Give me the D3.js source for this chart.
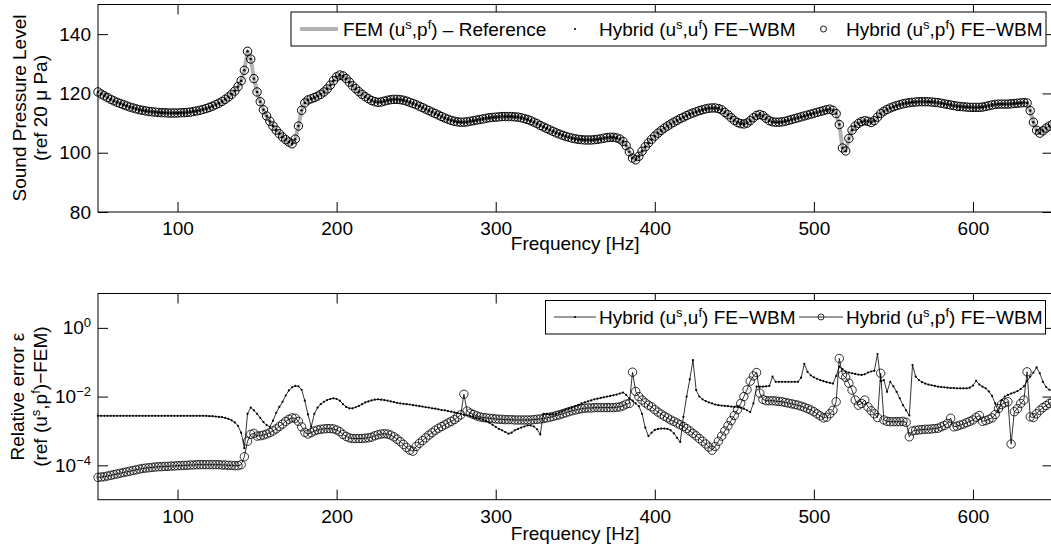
<!DOCTYPE html>
<html>
<head>
<meta charset="utf-8">
<script src="https://cdn.jsdelivr.net/npm/d3@7"></script>
<style>
  body { margin: 0; background: #fff; }
  svg { display: block; overflow: hidden; }
  svg text { font-family: "Liberation Sans", Arial, Helvetica, sans-serif; fill: #000; }
</style>
</head>
<body>
<div id="chart"></div>
<script>
// frequency sweep, 2 Hz steps
var freqHz = d3.range(50, 651, 2);

// sound pressure level (dB ref 20 uPa), the FEM and both hybrid models coincide at this scale
var splDb = [
  120.5, 119.8, 119.2, 118.6, 118.0, 117.5, 117.0, 116.6, 116.2, 115.8,
  115.4, 115.1, 114.8, 114.5, 114.3, 114.1, 113.9, 113.8, 113.7, 113.6,
  113.5, 113.5, 113.4, 113.4, 113.4, 113.4, 113.5, 113.5, 113.6, 113.7,
  113.9, 114.1, 114.3, 114.6, 114.9, 115.3, 115.7, 116.2, 116.7, 117.3,
  118.0, 118.8, 119.7, 120.8, 122.3, 124.3, 127.8, 134.2, 131.6, 125.0,
  120.5, 117.2, 114.5, 112.4, 110.6, 109.0, 107.6, 106.4, 105.3, 104.4,
  103.6, 103.0, 104.6, 109.0, 114.3, 116.8, 117.8, 118.2, 118.6, 119.1,
  119.7, 120.5, 121.5, 122.8, 124.3, 125.6, 126.2, 125.9, 125.0, 123.8,
  122.6, 121.6, 120.6, 119.7, 118.9, 118.2, 117.6, 117.2, 117.0, 117.1,
  117.4, 117.7, 117.9, 118.0, 118.0, 117.9, 117.7, 117.4, 117.0, 116.6,
  116.2, 115.7, 115.2, 114.7, 114.2, 113.7, 113.2, 112.7, 112.2, 111.7,
  111.3, 110.9, 110.6, 110.4, 110.3, 110.3, 110.4, 110.6, 110.8, 111.0,
  111.2, 111.4, 111.6, 111.8, 111.9, 112.0, 112.1, 112.2, 112.2, 112.2,
  112.2, 112.1, 112.0, 111.8, 111.5, 111.2, 110.8, 110.3, 109.8, 109.2,
  108.7, 108.2, 107.7, 107.2, 106.7, 106.3, 105.9, 105.5, 105.2, 104.9,
  104.7, 104.5, 104.4, 104.3, 104.3, 104.3, 104.4, 104.5, 104.7, 104.9,
  105.1, 105.2, 105.2, 105.0, 104.6, 103.8, 102.4, 100.3, 98.2, 97.6,
  98.8, 100.5, 102.0, 103.3, 104.5, 105.6, 106.6, 107.5, 108.3, 109.0,
  109.7, 110.3, 110.9, 111.5, 112.0, 112.5, 113.0, 113.4, 113.8, 114.2,
  114.5, 114.8, 115.0, 115.1, 115.1, 114.9, 114.5, 113.6, 112.8, 111.8,
  110.9, 110.2, 109.8, 109.7, 110.0, 110.8, 111.8, 112.6, 112.9, 112.5,
  111.6, 110.8, 110.4, 110.3, 110.3, 110.4, 110.6, 110.9, 111.2, 111.5,
  111.8, 112.1, 112.4, 112.7, 113.0, 113.3, 113.6, 113.9, 114.2, 114.5,
  114.7, 114.3, 113.2, 109.5, 101.6, 100.6, 104.8, 107.6, 109.0, 109.9,
  110.5, 110.8, 110.6, 110.2, 110.8, 112.0, 113.2, 114.0, 114.6, 115.1,
  115.5, 115.9, 116.2, 116.5, 116.7, 116.9, 117.0, 117.1, 117.2, 117.2,
  117.2, 117.2, 117.1, 117.0, 116.9, 116.7, 116.5, 116.3, 116.1, 115.9,
  115.7, 115.6, 115.5, 115.4, 115.3, 115.3, 115.3, 115.3, 115.4, 115.6,
  115.9, 116.1, 116.3, 116.4, 116.4, 116.4, 116.4, 116.5, 116.6, 116.7,
  116.8, 116.9, 116.8, 114.2, 110.3, 107.6, 106.6, 107.4, 108.3, 109.0,
  109.6
];

// relative error, stored as log10 of the value
var errUfLog = [
  -2.56, -2.56, -2.56, -2.56, -2.56, -2.56, -2.56, -2.56, -2.56, -2.56,
  -2.56, -2.56, -2.56, -2.56, -2.56, -2.56, -2.56, -2.56, -2.56, -2.56,
  -2.56, -2.56, -2.56, -2.56, -2.56, -2.56, -2.56, -2.56, -2.56, -2.56,
  -2.56, -2.56, -2.56, -2.56, -2.56, -2.57, -2.57, -2.58, -2.59, -2.60,
  -2.62, -2.65, -2.69, -2.75, -2.85, -3.05, -3.50, -2.50, -2.32, -2.40,
  -2.50, -2.62, -2.74, -2.83, -2.88, -2.70, -2.47, -2.30, -2.15, -1.97,
  -1.82, -1.73, -1.69, -1.70, -1.80, -2.12, -2.52, -2.88, -2.50, -2.32,
  -2.22, -2.15, -2.10, -2.07, -2.05, -2.07, -2.12, -2.22, -2.30, -2.34,
  -2.34, -2.31, -2.27, -2.22, -2.17, -2.14, -2.11, -2.09, -2.08, -2.09,
  -2.10, -2.12, -2.14, -2.16, -2.18, -2.20, -2.21, -2.22, -2.23, -2.25,
  -2.26, -2.28, -2.29, -2.31, -2.32, -2.34, -2.35, -2.37, -2.39, -2.40,
  -2.42, -2.44, -2.46, -2.48, -2.50, -2.53, -2.55, -2.57, -2.59, -2.62,
  -2.64, -2.67, -2.71, -2.76, -2.82, -2.88, -2.94, -2.98, -3.03, -3.08,
  -3.05, -2.98, -2.94, -2.90, -2.87, -2.84, -2.84, -2.87, -2.95, -3.10,
  -2.50, -2.50, -2.52, -2.52, -2.50, -2.46, -2.42, -2.38, -2.35, -2.32,
  -2.28, -2.24, -2.20, -2.17, -2.14, -2.11, -2.08, -2.06, -2.04, -2.02,
  -2.00, -1.98, -1.96, -1.94, -1.91, -1.88, -1.95, -2.05, -2.12, -2.20,
  -2.28, -2.50, -2.90, -3.15, -3.05, -2.97, -2.94, -2.93, -2.93, -2.94,
  -2.98, -3.07, -3.20, -3.32, -2.59, -2.00, -1.50, -0.94, -1.81, -2.00,
  -2.08, -2.13, -2.17, -2.20, -2.23, -2.25, -2.26, -2.27, -2.28, -2.29,
  -2.30, -2.30, -2.32, -2.35, -2.40, -2.45, -2.20, -1.71, -1.71, -1.71,
  -1.70, -1.69, -1.42, -1.57, -1.57, -1.57, -1.57, -1.57, -1.57, -1.57,
  -1.57, -1.45, -1.05, -1.28, -1.38, -1.44, -1.48, -1.52, -1.55, -1.58,
  -1.60, -1.62, -1.40, -1.13, -1.20, -1.27, -1.30, -1.32, -1.34, -1.36,
  -1.37, -1.35, -1.30, -1.27, -1.25, -0.76, -1.55, -1.52, -1.86, -1.57,
  -1.70, -1.86, -2.05, -2.25, -2.40, -2.55, -1.08, -1.42, -1.52, -1.58,
  -1.62, -1.65, -1.67, -1.69, -1.71, -1.72, -1.73, -1.74, -1.75, -1.75,
  -1.76, -1.76, -1.76, -1.76, -1.74, -1.68, -1.54, -1.65, -1.71, -1.76,
  -1.85, -1.98, -2.20, -2.44, -2.10, -2.00, -1.95, -1.91, -1.88, -1.84,
  -1.78, -1.70, -1.55, -1.42, -1.30, -1.15, -1.32, -1.57, -1.72, -1.80,
  -1.84
];

var errPfLog = [
  -4.35, -4.34, -4.33, -4.31, -4.29, -4.27, -4.25, -4.23, -4.21, -4.19,
  -4.17, -4.15, -4.13, -4.11, -4.09, -4.08, -4.07, -4.06, -4.05, -4.04,
  -4.04, -4.03, -4.03, -4.02, -4.02, -4.01, -4.01, -4.00, -4.00, -3.99,
  -3.99, -3.98, -3.98, -3.98, -3.98, -3.98, -3.98, -3.98, -3.98, -3.99,
  -3.99, -4.00, -4.00, -4.01, -4.01, -3.98, -3.75, -3.30, -3.10, -3.07,
  -3.15, -3.14, -3.12, -3.09, -3.05, -3.00, -2.94, -2.87, -2.80, -2.72,
  -2.66, -2.62, -2.63, -2.72, -2.88, -3.04, -3.09, -3.05, -3.00, -2.97,
  -2.95, -2.94, -2.93, -2.93, -2.94, -2.97, -3.02, -3.10, -3.16, -3.20,
  -3.22, -3.22, -3.22, -3.22, -3.21, -3.20, -3.18, -3.14, -3.11, -3.09,
  -3.08, -3.09, -3.12, -3.17, -3.24, -3.31, -3.39, -3.48, -3.56, -3.59,
  -3.45, -3.36, -3.28, -3.20, -3.12, -3.05, -2.98, -2.92, -2.87, -2.82,
  -2.77, -2.72, -2.67, -2.60, -2.53, -1.93, -2.42, -2.48, -2.52, -2.56,
  -2.59, -2.61, -2.62, -2.63, -2.64, -2.65, -2.66, -2.66, -2.67, -2.67,
  -2.67, -2.68, -2.68, -2.68, -2.68, -2.68, -2.68, -2.67, -2.66, -2.65,
  -2.64, -2.62, -2.60, -2.58, -2.55, -2.53, -2.50, -2.47, -2.44, -2.41,
  -2.39, -2.37, -2.35, -2.34, -2.33, -2.33, -2.32, -2.32, -2.32, -2.32,
  -2.32, -2.32, -2.32, -2.31, -2.30, -2.27, -2.22, -2.20, -1.29, -1.85,
  -2.00, -2.10, -2.18, -2.25, -2.30, -2.38, -2.45, -2.51, -2.57, -2.62,
  -2.68, -2.72, -2.77, -2.82, -2.87, -2.93, -3.00, -3.07, -3.14, -3.22,
  -3.30, -3.38, -3.47, -3.56, -3.45, -3.30, -3.15, -3.00, -2.85, -2.70,
  -2.55, -2.38, -2.20, -2.00, -1.80, -1.55, -1.40, -1.30, -1.90, -2.08,
  -2.12, -2.12, -2.12, -2.13, -2.14, -2.15, -2.17, -2.19, -2.21, -2.23,
  -2.25, -2.28, -2.31, -2.35, -2.39, -2.44, -2.50, -2.56, -2.62, -2.60,
  -2.50, -2.40, -2.15, -0.89, -1.37, -1.44, -1.61, -1.81, -2.10, -2.25,
  -2.20, -2.10, -2.30, -2.41, -2.50, -2.61, -1.32, -2.68, -2.72, -2.73,
  -2.73, -2.73, -2.73, -2.72, -2.75, -3.17, -3.00, -2.98, -2.97, -2.96,
  -2.95, -2.95, -2.94, -2.93, -2.92, -2.88, -2.84, -2.78, -2.63, -2.88,
  -2.86, -2.83, -2.80, -2.76, -2.72, -2.68, -2.60, -2.55, -2.72, -2.70,
  -2.66, -2.62, -2.52, -2.35, -2.23, -2.18, -2.15, -3.38, -2.44, -2.35,
  -2.20, -2.10, -1.28, -2.59, -2.61, -2.50, -2.40, -2.32, -2.26, -2.20,
  -2.15
];

var splTicks = [80, 100, 120, 140];
var freqTicks = [100, 200, 300, 400, 500, 600];
var errTicks = [1e0, 1e-2, 1e-4];

var width = 1051, height = 548;
var fs = 19;

var svg = d3.select("#chart").append("svg")
    .attr("width", width)
    .attr("height", height);

var x = d3.scaleLinear().domain([50, 650]).range([98, 1052.5]);
var ySpl = d3.scaleLinear().domain([80, 150]).range([212, 4.5]);
var yErr = d3.scaleLog().domain([1e-5, 10]).range([499.7, 293.5]);

// writes text with superscripts; parts = [[string, isSup], ...]
function rich(textSel, parts) {
  var up = false;
  parts.forEach(function(p) {
    var t = textSel.append("tspan").text(p[0]);
    if (p[1]) {
      t.attr("dy", -7).style("font-size", "13px");
      up = true;
    } else if (up) {
      t.attr("dy", 7);
      up = false;
    }
  });
  return textSel;
}

function frame(yScale, top, bottom, yTicks, yFormat, labelGap) {
  var g = svg.append("g");

  g.append("g")
      .attr("transform", "translate(0," + bottom + ")")
      .call(d3.axisBottom(x).tickValues(freqTicks).tickSize(-10).tickSizeOuter(0).tickPadding(10))
      .call(function(a) { a.select(".domain").remove(); });

  g.append("g")
      .attr("transform", "translate(0," + top + ")")
      .call(d3.axisTop(x).tickValues(freqTicks).tickSize(-10).tickSizeOuter(0).tickFormat(""))
      .call(function(a) { a.select(".domain").remove(); });

  var left = g.append("g")
      .attr("transform", "translate(" + x.range()[0] + ",0)")
      .call(d3.axisLeft(yScale).tickValues(yTicks).tickSize(-10).tickSizeOuter(0).tickPadding(7).tickFormat(yFormat))
      .call(function(a) { a.select(".domain").remove(); });

  g.append("g")
      .attr("transform", "translate(" + x.range()[1] + ",0)")
      .call(d3.axisRight(yScale).tickValues(yTicks).tickSize(-10).tickSizeOuter(0).tickFormat(""))
      .call(function(a) { a.select(".domain").remove(); });

  g.selectAll(".tick line").attr("stroke", "#000").attr("stroke-width", 1);
  g.selectAll(".tick text").style("font-size", fs + "px").attr("fill", "#000");

  g.append("rect")
      .attr("x", x.range()[0]).attr("y", top)
      .attr("width", x.range()[1] - x.range()[0])
      .attr("height", bottom - top)
      .attr("fill", "none").attr("stroke", "#000").attr("stroke-width", 1);

  svg.append("text")
      .attr("x", (x.range()[0] + x.range()[1]) / 2)
      .attr("y", bottom + labelGap)
      .attr("text-anchor", "middle")
      .style("font-size", fs + "px")
      .text("Frequency [Hz]");

  return left;
}

// ---------- top: sound pressure level ----------
frame(ySpl, 4.5, 212, splTicks, d3.format("d"), 38);

var splLine = d3.line()
    .x(function(d, i) { return x(freqHz[i]); })
    .y(function(d) { return ySpl(d); });

svg.append("path")
    .datum(splDb)
    .attr("d", splLine)
    .attr("fill", "none")
    .attr("stroke", "#b3b3b3")
    .attr("stroke-width", 4)
    .attr("stroke-linejoin", "round");

svg.append("g").selectAll("circle")
    .data(splDb)
  .enter().append("circle")
    .attr("cx", function(d, i) { return x(freqHz[i]); })
    .attr("cy", function(d) { return ySpl(d); })
    .attr("r", 1.2)
    .attr("fill", "#000");

svg.append("g").selectAll("circle")
    .data(splDb)
  .enter().append("circle")
    .attr("cx", function(d, i) { return x(freqHz[i]); })
    .attr("cy", function(d) { return ySpl(d); })
    .attr("r", 4.2)
    .attr("fill", "none")
    .attr("stroke", "#000")
    .attr("stroke-width", 1);

svg.append("text")
    .attr("transform", "translate(26,108) rotate(-90)")
    .attr("text-anchor", "middle")
    .style("font-size", fs + "px")
    .text("Sound Pressure Level");
svg.append("text")
    .attr("transform", "translate(47,108) rotate(-90)")
    .attr("text-anchor", "middle")
    .style("font-size", fs + "px")
    .text("(ref 20 \u03bc Pa)");

// legend top
var leg1 = svg.append("g");
leg1.append("rect")
    .attr("x", 291).attr("y", 12).attr("width", 755).attr("height", 34)
    .attr("fill", "#fff").attr("stroke", "#000").attr("stroke-width", 1);
leg1.append("line")
    .attr("x1", 300).attr("x2", 338).attr("y1", 29).attr("y2", 29)
    .attr("stroke", "#b3b3b3").attr("stroke-width", 4);
rich(leg1.append("text").attr("x", 343).attr("y", 36).style("font-size", fs + "px"),
    [["FEM (u"], ["s", 1], [",p"], ["f", 1], [") \u2013 Reference"]]);
leg1.append("circle").attr("cx", 575).attr("cy", 29).attr("r", 1.1).attr("fill", "#000");
rich(leg1.append("text").attr("x", 599).attr("y", 36).style("font-size", fs + "px"),
    [["Hybrid (u"], ["s", 1], [",u"], ["f", 1], [") FE\u2212WBM"]]);
leg1.append("circle").attr("cx", 823.5).attr("cy", 29).attr("r", 3)
    .attr("fill", "none").attr("stroke", "#000").attr("stroke-width", 0.9);
rich(leg1.append("text").attr("x", 846).attr("y", 36).style("font-size", fs + "px"),
    [["Hybrid (u"], ["s", 1], [",p"], ["f", 1], [") FE\u2212WBM"]]);

// ---------- bottom: relative error ----------
var errLeft = frame(yErr, 293.5, 499.7, errTicks, function() { return ""; }, 40);
errLeft.selectAll(".tick text").each(function(d) {
  var e = Math.round(Math.log10(d));
  var t = d3.select(this).text("10");
  t.append("tspan").attr("dy", -7).style("font-size", "13px")
      .text(e < 0 ? "\u2212" + (-e) : String(e));
});

var errLine = d3.line()
    .x(function(d, i) { return x(freqHz[i]); })
    .y(function(d) { return yErr(Math.pow(10, d)); });

svg.append("path")
    .datum(errUfLog)
    .attr("d", errLine)
    .attr("fill", "none")
    .attr("stroke", "#000")
    .attr("stroke-width", 0.8);
svg.append("g").selectAll("circle")
    .data(errUfLog)
  .enter().append("circle")
    .attr("cx", function(d, i) { return x(freqHz[i]); })
    .attr("cy", function(d) { return yErr(Math.pow(10, d)); })
    .attr("r", 1.1)
    .attr("fill", "#000");

svg.append("path")
    .datum(errPfLog)
    .attr("d", errLine)
    .attr("fill", "none")
    .attr("stroke", "#000")
    .attr("stroke-width", 0.8);
svg.append("g").selectAll("circle")
    .data(errPfLog)
  .enter().append("circle")
    .attr("cx", function(d, i) { return x(freqHz[i]); })
    .attr("cy", function(d) { return yErr(Math.pow(10, d)); })
    .attr("r", 4.2)
    .attr("fill", "none")
    .attr("stroke", "#000")
    .attr("stroke-width", 0.8);

svg.append("text")
    .attr("transform", "translate(24,396.6) rotate(-90)")
    .attr("text-anchor", "middle")
    .style("font-size", fs + "px")
    .text("Relative error \u03b5");
rich(svg.append("text")
    .attr("transform", "translate(47,396.6) rotate(-90)")
    .attr("text-anchor", "middle")
    .style("font-size", fs + "px"),
    [["(ref (u"], ["s", 1], [",p"], ["f", 1], [")\u2212FEM)"]]);

// legend bottom
var leg2 = svg.append("g");
leg2.append("rect")
    .attr("x", 545.5).attr("y", 300.5).attr("width", 500).attr("height", 33.5)
    .attr("fill", "#fff").attr("stroke", "#000").attr("stroke-width", 1);
leg2.append("line")
    .attr("x1", 554).attr("x2", 596).attr("y1", 317).attr("y2", 317)
    .attr("stroke", "#000").attr("stroke-width", 0.8);
leg2.append("circle").attr("cx", 575).attr("cy", 317).attr("r", 1.1).attr("fill", "#000");
rich(leg2.append("text").attr("x", 599).attr("y", 324).style("font-size", fs + "px"),
    [["Hybrid (u"], ["s", 1], [",u"], ["f", 1], [") FE\u2212WBM"]]);
leg2.append("line")
    .attr("x1", 799).attr("x2", 843).attr("y1", 317).attr("y2", 317)
    .attr("stroke", "#000").attr("stroke-width", 0.8);
leg2.append("circle").attr("cx", 821).attr("cy", 317).attr("r", 3)
    .attr("fill", "none").attr("stroke", "#000").attr("stroke-width", 0.8);
rich(leg2.append("text").attr("x", 846).attr("y", 324).style("font-size", fs + "px"),
    [["Hybrid (u"], ["s", 1], [",p"], ["f", 1], [") FE\u2212WBM"]]);
</script>
</body>
</html>
